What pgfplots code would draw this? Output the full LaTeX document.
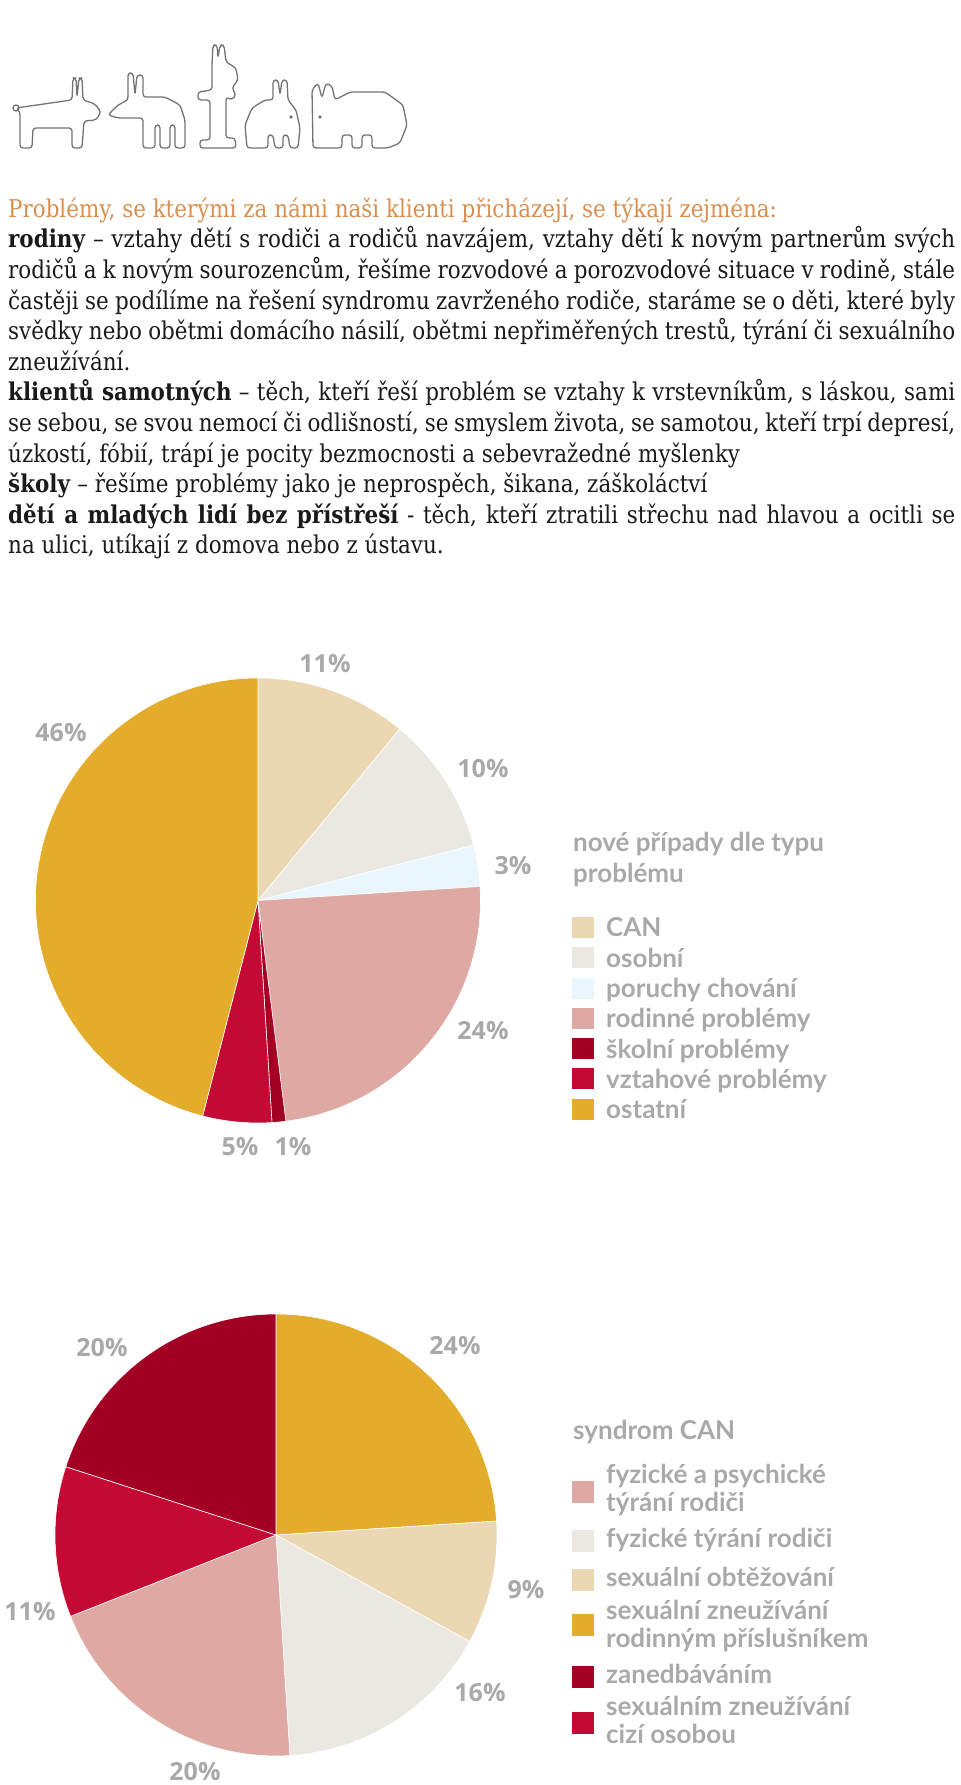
\documentclass[border=0pt]{standalone}
\usepackage{pgfplots}
\pgfplotsset{compat=1.18}
\usepackage{pgfplotstable}
\usepackage{fontspec}
\setmainfont{DejaVu Serif}[FakeStretch=0.875]
\newfontfamily\legfont{Lato}
\newfontfamily\pctfont{Open Sans}

\definecolor{canC}{HTML}{EBD8B2}
\definecolor{osobC}{HTML}{EBE8E1}
\definecolor{porC}{HTML}{E9F7FC}
\definecolor{rodC}{HTML}{DEA9A3}
\definecolor{skolC}{HTML}{A30023}
\definecolor{vztC}{HTML}{C40A34}
\definecolor{ostC}{HTML}{E3AC2A}
\definecolor{labC}{HTML}{A9A9A9}
\definecolor{orangeT}{HTML}{D98E4F}
\definecolor{bodyT}{HTML}{1A1A1A}

% nove pripady dle typu problemu (clockwise from top)
\pgfplotstableread{
value color
11 canC
10 osobC
3 porC
24 rodC
1 skolC
5 vztC
46 ostC
}\pieA
% syndrom CAN (clockwise from top)
\pgfplotstableread{
value color
24 ostC
9 canC
16 osobC
20 rodC
11 vztC
20 skolC
}\pieB

\newcommand\drawpie[1]{%
  \pgfplotstablegetrowsof{#1}%
  \pgfmathtruncatemacro\pielast{\pgfplotsretval-1}%
  \gdef\piecum{0}%
  \foreach \r in {0,...,\pielast}{%
    \pgfplotstablegetelem{\r}{value}\of{#1}\let\pv\pgfplotsretval
    \pgfplotstablegetelem{\r}{color}\of{#1}\let\pc\pgfplotsretval
    \pgfmathsetmacro\sa{90-3.6*\piecum}%
    \pgfmathsetmacro\ea{90-3.6*(\piecum+\pv)}%
    \filldraw[fill=\pc, draw=white, line width=0.6bp] (axis cs:0,0) -- (axis cs:{cos(\sa)},{sin(\sa)}) arc[start angle=\sa, end angle=\ea, radius=1] -- cycle;
    \pgfmathsetmacro\newcum{\piecum+\pv}\xdef\piecum{\newcum}%
  }%
}

\newcommand\jline[2]{\node[anchor=base west, inner sep=0pt, text=bodyT] at (8,#1) {\makebox[947bp][s]{#2}};}
\newcommand\nline[2]{\node[anchor=base west, inner sep=0pt, text=bodyT] at (8,#1) {#2};}
\newcommand\legtxt[2]{\node[anchor=base west, inner sep=0pt, text=labC, font=\legfont\bfseries\fontsize{26bp}{28bp}\selectfont] at (606,#1) {#2};}
\newcommand\pct[3]{\node[inner sep=0pt, text=labC, font=\pctfont\bfseries\fontsize{25bp}{28bp}\selectfont] at (#1,#2) {#3};}

\begin{document}
\begin{tikzpicture}[x=1bp,y=1bp]
\path[use as bounding box] (0,0) rectangle (960,1785);

\begin{scope}[shift={(0,1785)},yscale=-1]
% ---- logo (approximate outline animals)
\begin{scope}[draw=black!55, double=white, double distance=2bp, line width=1.3bp, rounded corners=3bp, line join=round]
\draw (16,108) -- (72,100) -- (73,78) -- (76,78) -- (77,97) -- (79,78) -- (82,78) -- (83,100) -- (95,104) -- (101,112) -- (96,120) -- (84,121) -- (82,148) -- (72,148) -- (72,128) -- (33,128) -- (32,148) -- (20,148) -- (20,112) -- cycle;
\draw (16,108) circle[radius=3];
\draw (108,115) -- (118,105) -- (128,100) -- (128,73) -- (133,73) -- (135,95) -- (137,75) -- (143,75) -- (143,97) -- (165,97) -- (180,105) -- (185,120) -- (185,148) -- (175,148) -- (175,125) -- (170,125) -- (170,148) -- (160,148) -- (160,125) -- (155,125) -- (155,148) -- (143,148) -- (143,118) -- (118,118) -- cycle;
\draw (213,45) -- (217,45) -- (218,58) -- (220,45) -- (224,45) -- (226,62) -- (236,68) -- (238,80) -- (232,88) -- (236,95) -- (232,100) -- (226,97) -- (226,138) -- (235,138) -- (236,148) -- (200,148) -- (200,140) -- (210,140) -- (210,100) -- (198,100) -- (198,92) -- (212,90) -- (212,65) -- cycle;
\draw (247,148) -- (245,125) -- (252,108) -- (265,100) -- (273,100) -- (273,80) -- (278,80) -- (280,95) -- (282,80) -- (287,80) -- (288,100) -- (296,110) -- (300,128) -- (298,148) -- (290,148) -- (288,135) -- (283,135) -- (283,148) -- (275,148) -- (273,135) -- (268,135) -- (268,148) -- cycle;
\draw (313,148) -- (312,90) -- (318,83) -- (322,98) -- (326,83) -- (332,86) -- (335,100) -- (350,92) -- (385,92) -- (403,105) -- (407,125) -- (400,143) -- (388,148) -- (372,148) -- (372,135) -- (362,135) -- (362,148) -- (352,148) -- (352,135) -- (342,135) -- (342,148) -- cycle;
\end{scope}
\fill[black!55] (291,117) circle[radius=1.8] (320,117) circle[radius=1.8];

% ---- text block
\begin{scope}[font=\fontsize{24.5bp}{28bp}\selectfont]
\node[anchor=base west, inner sep=0pt, text=orangeT] at (8,217.4) {Problémy, se kterými za námi naši klienti přicházejí, se týkají zejména:};
\jline{248}{\textbf{rodiny} – vztahy dětí s rodiči a rodičů navzájem, vztahy dětí k novým partnerům svých}
\jline{278.6}{rodičů a k novým sourozencům, řešíme rozvodové a porozvodové situace v rodině, stále}
\jline{309.2}{častěji se podílíme na řešení syndromu zavrženého rodiče, staráme se o děti, které byly}
\jline{339.8}{svědky nebo obětmi domácího násilí, obětmi nepřiměřených trestů, týrání či sexuálního}
\nline{370.4}{zneužívání.}
\jline{401}{\textbf{klientů samotných} – těch, kteří řeší problém se vztahy k vrstevníkům, s láskou, sami}
\jline{431.6}{se sebou, se svou nemocí či odlišností, se smyslem života, se samotou, kteří trpí depresí,}
\nline{462.2}{úzkostí, fóbií, trápí je pocity bezmocnosti a sebevražedné myšlenky}
\nline{492.8}{\textbf{školy} – řešíme problémy jako je neprospěch, šikana, záškoláctví}
\jline{523.4}{\textbf{dětí a mladých lidí bez přístřeší} - těch, kteří ztratili střechu nad hlavou a ocitli se}
\nline{554}{na ulici, utíkají z domova nebo z ústavu.}
\end{scope}

% ---- legend 1
\begin{scope}[font=\legfont\bfseries\fontsize{26bp}{28bp}\selectfont]
\node[anchor=base west, inner sep=0pt, text=labC] at (573,852) {nové případy dle typu};
\node[anchor=base west, inner sep=0pt, text=labC] at (573,883) {problému};
\end{scope}
\fill[canC]  (572,917)    rectangle (594,938);
\fill[osobC] (572,947.3)  rectangle (594,968.3);
\fill[porC]  (572,977.6)  rectangle (594,998.6);
\fill[rodC]  (572,1007.9) rectangle (594,1028.9);
\fill[skolC] (572,1038.2) rectangle (594,1059.2);
\fill[vztC]  (572,1068.5) rectangle (594,1089.5);
\fill[ostC]  (572,1098.8) rectangle (594,1119.8);
\legtxt{937}{CAN}
\legtxt{967.3}{osobní}
\legtxt{997.6}{poruchy chování}
\legtxt{1027.9}{rodinné problémy}
\legtxt{1058.2}{školní problémy}
\legtxt{1088.5}{vztahové problémy}
\legtxt{1118.8}{ostatní}

% ---- legend 2
\node[anchor=base west, inner sep=0pt, text=labC, font=\legfont\bfseries\fontsize{26bp}{28bp}\selectfont] at (573,1440) {syndrom CAN};
\fill[rodC]  (572,1481) rectangle (594,1503);
\fill[osobC] (572,1530) rectangle (594,1552);
\fill[canC]  (572,1569) rectangle (594,1591);
\fill[ostC]  (572,1614) rectangle (594,1636);
\fill[skolC] (572,1666) rectangle (594,1688);
\fill[vztC]  (572,1712) rectangle (594,1734);
\legtxt{1484}{fyzické a psychické}
\legtxt{1512}{týrání rodiči}
\legtxt{1548}{fyzické týrání rodiči}
\legtxt{1587}{sexuální obtěžování}
\legtxt{1620}{sexuální zneužívání}
\legtxt{1648}{rodinným příslušníkem}
\legtxt{1684}{zanedbáváním}
\legtxt{1716}{sexuálním zneužívání}
\legtxt{1744}{cizí osobou}

% ---- pie labels
\pct{325}{664}{11\%}
\pct{61}{733}{46\%}
\pct{483}{769}{10\%}
\pct{513}{866}{3\%}
\pct{483}{1031}{24\%}
\pct{240}{1147}{5\%}
\pct{293}{1147}{1\%}
\pct{102}{1348}{20\%}
\pct{455}{1346}{24\%}
\pct{526}{1590}{9\%}
\pct{30}{1612}{11\%}
\pct{480}{1693}{16\%}
\pct{195}{1772}{20\%}
\end{scope}

% ---- pie 1
\begin{axis}[at={(258bp,884.5bp)}, anchor=center, width=445bp, height=445bp, scale only axis, hide axis, xmin=-1, xmax=1, ymin=-1, ymax=1, clip=false]
\pgfplotsextra{\drawpie{\pieA}}
\end{axis}
% ---- pie 2
\begin{axis}[at={(276bp,250bp)}, anchor=center, width=442bp, height=442bp, scale only axis, hide axis, xmin=-1, xmax=1, ymin=-1, ymax=1, clip=false]
\pgfplotsextra{\drawpie{\pieB}}
\end{axis}
\end{tikzpicture}
\end{document}
